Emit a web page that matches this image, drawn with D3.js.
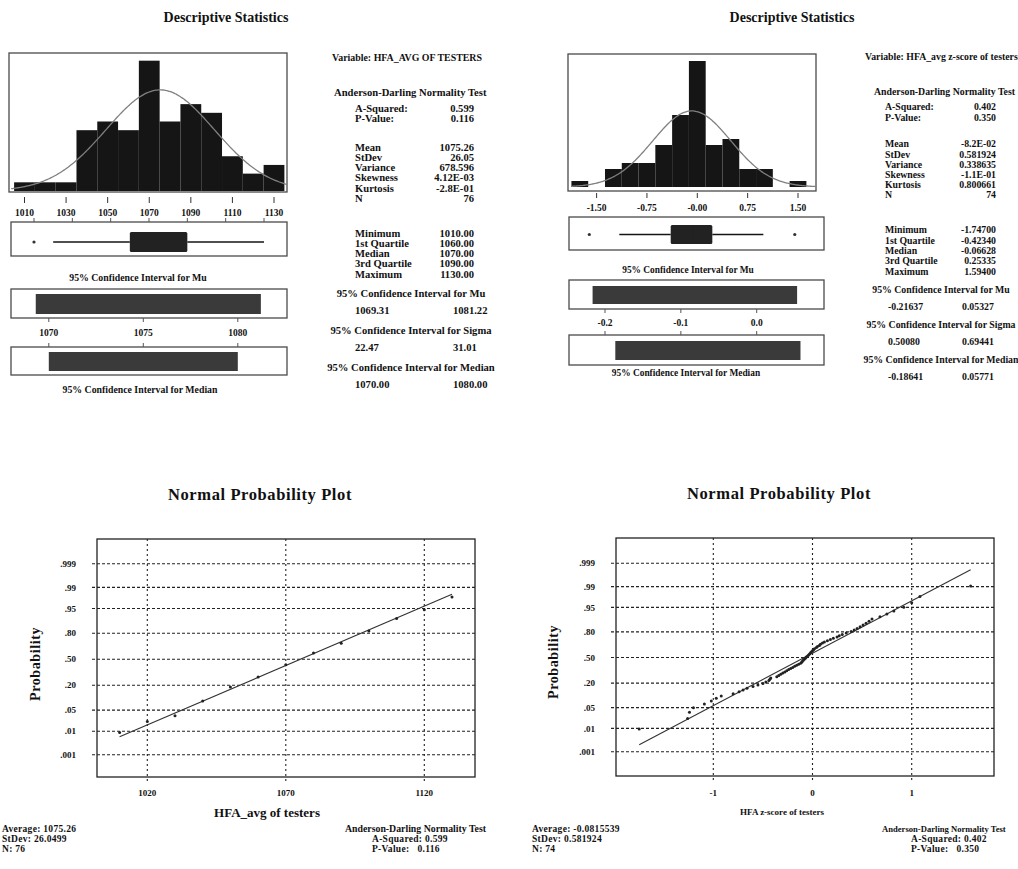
<!DOCTYPE html>
<html>
<head>
<meta charset="utf-8">
<script src="https://cdn.jsdelivr.net/npm/d3@7"></script>
<style>
  html, body { margin: 0; padding: 0; background: #fff; }
  svg { display: block; font-family: "Liberation Serif", "Times New Roman", serif; font-weight: bold; fill: #111; }
</style>
</head>
<body>
<svg id="chart" width="1018" height="869"></svg>
<script>
// ---------- HFA_AVG of testers ----------
const binCentersA = [1010, 1020, 1030, 1040, 1050, 1060, 1070, 1080, 1090, 1100, 1110, 1120, 1130];
const countsA     = [1, 1, 1, 7, 8, 7, 15, 8, 10, 9, 4, 2, 3];
const histTicksA  = [1010, 1030, 1050, 1070, 1090, 1110, 1130];
const meanA = 1075.26, sdA = 26.0499, nA = 76, binWidthA = 10;
const boxA = [1060, 1070, 1090];            // Q1, median, Q3
const whiskerA = [1020, 1130];
const outliersA = [1010];
const ciMuA = [1069.31, 1081.22];
const ciMedA = [1070.00, 1080.00];
const ciTicksA = [1070, 1075, 1080];
const ppValuesA = [1010, 1020, 1030, 1040, 1050, 1060, 1070, 1080, 1090, 1100, 1110, 1120, 1130];
const ppProbsA  = [0.009, 0.022, 0.034, 0.088, 0.186, 0.284, 0.430, 0.580, 0.697, 0.821, 0.906, 0.946, 0.978];
const ppXTicksA = [1020, 1070, 1120];

const statRowsA1 = [["A-Squared:", "0.599"], ["P-Value:", "0.116"]];
const statRowsA2 = [["Mean", "1075.26"], ["StDev", "26.05"], ["Variance", "678.596"], ["Skewness", "4.12E-03"], ["Kurtosis", "-2.8E-01"], ["N", "76"]];
const statRowsA3 = [["Minimum", "1010.00"], ["1st Quartile", "1060.00"], ["Median", "1070.00"], ["3rd Quartile", "1090.00"], ["Maximum", "1130.00"]];
const ciTextA = [["1069.31", "1081.22"], ["22.47", "31.01"], ["1070.00", "1080.00"]];

// ---------- HFA z-score of testers ----------
const binCentersB = [-1.75, -1.5, -1.25, -1.0, -0.75, -0.5, -0.25, 0, 0.25, 0.5, 0.75, 1.0, 1.25, 1.5];
const countsB     = [1, 0, 3, 4, 4, 7, 12, 21, 7, 8, 3, 3, 0, 1];
const histTicksB  = [-1.5, -0.75, 0, 0.75, 1.5];
const histTickLabelsB = ["-1.50", "-0.75", "-0.00", "0.75", "1.50"];
const meanB = -0.0815539, sdB = 0.581924, nB = 74, binWidthB = 0.25;
const boxB = [-0.42340, -0.06628, 0.25335];
const whiskerB = [-1.259, 1.083];
const outliersB = [-1.747, 1.594];
const ciMuB = [-0.21637, 0.05327];
const ciMedB = [-0.18641, 0.05771];
const ciTicksB = [-0.2, -0.1, 0.0];
const ciTickLabelsB = ["-0.2", "-0.1", "0.0"];
const ppValuesB = [-1.747, -1.259, -1.24, -1.20, -1.09, -1.02, -0.97, -0.92, -0.80, -0.74,
  -0.70, -0.66, -0.60, -0.55, -0.50, -0.47, -0.44, -0.430, -0.421, -0.36,
  -0.34, -0.32, -0.30, -0.28, -0.26, -0.24, -0.22, -0.20, -0.18, -0.16,
  -0.14, -0.12, -0.11, -0.10, -0.09, -0.08, -0.0688, -0.0638, -0.05, -0.04,
  -0.03, -0.02, -0.01, 0.00, 0.01, 0.02, 0.04, 0.05, 0.07, 0.08,
  0.10, 0.12, 0.15, 0.18, 0.21, 0.2478, 0.270, 0.30, 0.34, 0.39,
  0.42, 0.45, 0.48, 0.51, 0.54, 0.57, 0.60, 0.68, 0.75, 0.82,
  0.92, 1.00, 1.083, 1.594];
const ppXTicksB = [-1, 0, 1];

const statRowsB1 = [["A-Squared:", "0.402"], ["P-Value:", "0.350"]];
const statRowsB2 = [["Mean", "-8.2E-02"], ["StDev", "0.581924"], ["Variance", "0.338635"], ["Skewness", "-1.1E-01"], ["Kurtosis", "0.800661"], ["N", "74"]];
const statRowsB3 = [["Minimum", "-1.74700"], ["1st Quartile", "-0.42340"], ["Median", "-0.06628"], ["3rd Quartile", "0.25335"], ["Maximum", "1.59400"]];
const ciTextB = [["-0.21637", "0.05327"], ["0.50080", "0.69441"], ["-0.18641", "0.05771"]];

// shared probability axis
const probTicks = [0.001, 0.01, 0.05, 0.2, 0.5, 0.8, 0.95, 0.99, 0.999];
const probTickLabels = [".001", ".01", ".05", ".20", ".50", ".80", ".95", ".99", ".999"];

const svg = d3.select("#chart");
const INK = "#151515";

function txt(g, x, y, s, size, anchor) {
  return g.append("text").attr("x", x).attr("y", y).attr("dy", "0.35em")
    .attr("font-size", size).attr("text-anchor", anchor || "start").text(s);
}

// inverse standard normal CDF (Acklam)
function probit(p) {
  const a = [-3.969683028665376e+01, 2.209460984245205e+02, -2.759285104469687e+02, 1.383577518672690e+02, -3.066479806614716e+01, 2.506628277459239e+00];
  const b = [-5.447609879822406e+01, 1.615858368580409e+02, -1.556989798598866e+02, 6.680131188771972e+01, -1.328068155288572e+01];
  const c = [-7.784894002430293e-03, -3.223964580411365e-01, -2.400758277161838e+00, -2.549732539343734e+00, 4.374664141464968e+00, 2.938163982698783e+00];
  const d = [7.784695709041462e-03, 3.224671290700398e-01, 2.445134137142996e+00, 3.754408661907416e+00];
  const pl = 0.02425, ph = 1 - pl;
  let q, r;
  if (p < pl) {
    q = Math.sqrt(-2 * Math.log(p));
    return (((((c[0]*q+c[1])*q+c[2])*q+c[3])*q+c[4])*q+c[5]) / ((((d[0]*q+d[1])*q+d[2])*q+d[3])*q+1);
  }
  if (p <= ph) {
    q = p - 0.5; r = q * q;
    return (((((a[0]*r+a[1])*r+a[2])*r+a[3])*r+a[4])*r+a[5])*q / (((((b[0]*r+b[1])*r+b[2])*r+b[3])*r+b[4])*r+1);
  }
  q = Math.sqrt(-2 * Math.log(1 - p));
  return -(((((c[0]*q+c[1])*q+c[2])*q+c[3])*q+c[4])*q+c[5]) / ((((d[0]*q+d[1])*q+d[2])*q+d[3])*q+1);
}
const phi = z => Math.exp(-0.5 * z * z) / Math.sqrt(2 * Math.PI);

// ---------- histogram with fitted normal curve ----------
function histogram(o) {
  const g = svg.append("g");
  g.append("rect").attr("x", o.frame[0]).attr("y", o.frame[1])
    .attr("width", o.frame[2] - o.frame[0]).attr("height", o.frame[3] - o.frame[1])
    .attr("fill", "none").attr("stroke", "#4a4a4a").attr("stroke-width", 1.3);
  const x = o.x, y = o.y;
  g.selectAll("rect.bar").data(o.centers.map((c, i) => ({ c, n: o.counts[i] })).filter(d => d.n > 0))
    .join("rect").attr("class", "bar")
    .attr("x", d => x(d.c - o.bw / 2)).attr("width", d => x(d.c + o.bw / 2) - x(d.c - o.bw / 2))
    .attr("y", d => y(d.n)).attr("height", d => y(0) - y(d.n))
    .attr("fill", INK);
  const xs = d3.range(o.curveDomain[0], o.curveDomain[1], (o.curveDomain[1] - o.curveDomain[0]) / 200).concat([o.curveDomain[1]]);
  const line = d3.line().x(v => x(v)).y(v => y(o.n * o.bw * phi((v - o.mean) / o.sd) / o.sd)).curve(d3.curveBasis);
  g.append("path").attr("d", line(xs)).attr("fill", "none").attr("stroke", "#808080").attr("stroke-width", 1.3);
  o.ticks.forEach((t, i) => {
    g.append("line").attr("x1", x(t)).attr("x2", x(t)).attr("y1", o.tickY[0]).attr("y2", o.tickY[1])
      .attr("stroke", "#333").attr("stroke-width", 1);
    txt(g, x(t), o.labelY, o.tickLabels ? o.tickLabels[i] : String(t), o.labelSize, "middle");
  });
}

// ---------- box plot ----------
function boxplot(o) {
  const g = svg.append("g");
  const x = o.x;
  g.append("rect").attr("x", o.frame[0]).attr("y", o.frame[1])
    .attr("width", o.frame[2] - o.frame[0]).attr("height", o.frame[3] - o.frame[1])
    .attr("fill", "none").attr("stroke", "#4a4a4a").attr("stroke-width", 1.3);
  o.ticks.forEach(t => {
    g.append("line").attr("x1", x(t)).attr("x2", x(t)).attr("y1", o.frame[1] - 4).attr("y2", o.frame[1])
      .attr("stroke", "#555").attr("stroke-width", 1);
  });
  g.append("line").attr("x1", x(o.whisker[0])).attr("x2", x(o.box[0])).attr("y1", o.cy).attr("y2", o.cy)
    .attr("stroke", INK).attr("stroke-width", 1.4);
  g.append("line").attr("x1", x(o.box[2])).attr("x2", x(o.whisker[1])).attr("y1", o.cy).attr("y2", o.cy)
    .attr("stroke", INK).attr("stroke-width", 1.4);
  g.append("rect").attr("x", x(o.box[0])).attr("width", x(o.box[2]) - x(o.box[0]))
    .attr("y", o.cy - o.bh / 2).attr("height", o.bh).attr("rx", 1.5).attr("fill", "#222");
  g.append("line").attr("x1", x(o.box[1])).attr("x2", x(o.box[1])).attr("y1", o.cy - o.bh / 2).attr("y2", o.cy + o.bh / 2)
    .attr("stroke", "#222").attr("stroke-width", 1);
  g.selectAll("circle").data(o.outliers).join("circle")
    .attr("cx", d => x(d)).attr("cy", o.cy).attr("r", 1.6).attr("fill", "#333");
}

// ---------- confidence interval bars ----------
function ciBars(o) {
  const g = svg.append("g");
  const x = o.x;
  [[o.muFrame, o.mu], [o.medFrame, o.med]].forEach(([f, ci]) => {
    g.append("rect").attr("x", f[0]).attr("y", f[1]).attr("width", f[2] - f[0]).attr("height", f[3] - f[1])
      .attr("fill", "none").attr("stroke", "#4a4a4a").attr("stroke-width", 1.3);
    g.append("rect").attr("x", x(ci[0])).attr("width", x(ci[1]) - x(ci[0]))
      .attr("y", f[1] + o.pad[0]).attr("height", f[3] - f[1] - o.pad[0] - o.pad[1])
      .attr("fill", "#3a3a3a");
  });
  o.ticks.forEach((t, i) => {
    g.append("line").attr("x1", x(t)).attr("x2", x(t)).attr("y1", o.muFrame[3]).attr("y2", o.muFrame[3] + 4)
      .attr("stroke", "#555");
    g.append("line").attr("x1", x(t)).attr("x2", x(t)).attr("y1", o.medFrame[1] - 4).attr("y2", o.medFrame[1])
      .attr("stroke", "#555");
    txt(g, x(t), o.labelY, o.tickLabels ? o.tickLabels[i] : String(t), o.labelSize, "middle");
  });
  txt(g, o.muTitle[0], o.muTitle[1], "95% Confidence Interval for Mu", o.titleSize, "middle");
  txt(g, o.medTitle[0], o.medTitle[1], "95% Confidence Interval for Median", o.titleSize, "middle");
}

// ---------- statistics text column ----------
function statsColumn(o) {
  const g = svg.append("g");
  const v = txt(g, o.varX, o.varY, o.variable, o.size);
  if (o.varWidth) v.attr("textLength", o.varWidth).attr("lengthAdjust", "spacingAndGlyphs");
  txt(g, o.adX, o.adY, "Anderson-Darling Normality Test", o.size);
  const rows = (list, y0, step) => list.forEach((r, i) => {
    txt(g, o.labelX, y0 + i * step, r[0], o.size);
    txt(g, o.valueX, y0 + i * step, r[1], o.size, "end");
  });
  rows(o.rows1, o.rows1Y, o.step);
  rows(o.rows2, o.rows2Y, o.step);
  rows(o.rows3, o.rows3Y, o.step3);
  const titles = ["95% Confidence Interval for Mu", "95% Confidence Interval for Sigma", "95% Confidence Interval for Median"];
  titles.forEach((t, i) => {
    txt(g, o.ciCenter, o.ciY[i], t, o.size, "middle");
    txt(g, o.ciValX[0], o.ciY[i] + o.ciGap, o.ci[i][0], o.size);
    txt(g, o.ciValX[1], o.ciY[i] + o.ciGap, o.ci[i][1], o.size);
  });
}

// ---------- normal probability plot ----------
function probPlot(o) {
  const g = svg.append("g");
  const x = o.x;
  const yz = o.yz;
  const yp = p => yz(probit(p));
  const f = o.frame;
  probTicks.forEach((p, i) => {
    g.append("line").attr("x1", o.gridX[0]).attr("x2", o.gridX[1]).attr("y1", yp(p)).attr("y2", yp(p))
      .attr("stroke", "#222").attr("stroke-width", 1.1).attr("stroke-dasharray", "3,2");
    txt(g, o.yLabelX, yp(p), probTickLabels[i], 9, "end");
  });
  o.xTicks.forEach((t, i) => {
    g.append("line").attr("x1", x(t)).attr("x2", x(t)).attr("y1", f[1]).attr("y2", f[3] + 6)
      .attr("stroke", "#222").attr("stroke-width", 1.1).attr("stroke-dasharray", "2,3");
    txt(g, x(t), o.xLabelY, o.xTickLabels[i], 9, "middle");
  });
  g.append("rect").attr("x", f[0]).attr("y", f[1]).attr("width", f[2] - f[0]).attr("height", f[3] - f[1])
    .attr("fill", "none").attr("stroke", "#222").attr("stroke-width", 1.3);
  // fitted line from the sample mean and standard deviation
  const lo = d3.min(o.values), hi = d3.max(o.values);
  g.append("line").attr("x1", x(lo)).attr("y1", yz((lo - o.mean) / o.sd))
    .attr("x2", x(hi)).attr("y2", yz((hi - o.mean) / o.sd))
    .attr("stroke", "#333").attr("stroke-width", 1.1);
  g.selectAll("circle").data(o.values.map((v, i) => [v, o.probs[i]])).join("circle")
    .attr("cx", d => x(d[0])).attr("cy", d => yp(d[1])).attr("r", 1.5).attr("fill", "#222");
  txt(g, o.title[0], o.title[1], "Normal Probability Plot", 16.5, "middle").attr("letter-spacing", 0.6);
  txt(g, 0, 0, "Probability", 14, "middle")
    .attr("transform", `translate(${o.yTitle[0]},${o.yTitle[1]}) rotate(-90)`).attr("letter-spacing", 0.6);
  txt(g, o.xTitle[0], o.xTitle[1], o.xTitleText, o.xTitleSize, "middle");
  const foot = o.foot;
  o.footLeft.forEach((s, i) => txt(g, foot[0], foot[2] + i * foot[3], s, 9.5).attr("letter-spacing", 0.3));
  txt(g, foot[1], foot[2], "Anderson-Darling Normality Test", o.adSize);
  o.footRight.forEach((s, i) => txt(g, foot[4], foot[2] + (i + 1) * foot[3], s, 9.5)
    .attr("letter-spacing", 0.3).attr("xml:space", "preserve"));
}

// ===== panel A (top-left) =====
txt(svg, 226, 17, "Descriptive Statistics", 14, "middle");
histogram({
  frame: [9, 53, 287, 192],
  x: d3.scaleLinear().domain([1010, 1130]).range([24.5, 274]),
  y: d3.scaleLinear().domain([0, 16]).range([191, 52]),
  centers: binCentersA, counts: countsA, bw: binWidthA,
  mean: meanA, sd: sdA, n: nA, curveDomain: [1003.6, 1136.2],
  ticks: histTicksA, tickY: [197, 203], labelY: 213, labelSize: 9.5
});
boxplot({
  frame: [11, 222, 287, 256], x: d3.scaleLinear().domain([1010, 1130]).range([34, 264]), ticks: histTicksA,
  box: boxA, whisker: whiskerA, outliers: outliersA, cy: 242, bh: 20
});
ciBars({
  x: d3.scaleLinear().domain([1070, 1080]).range([48.8, 237.8]),
  muFrame: [11, 289, 287, 318], medFrame: [11, 347, 287, 375], pad: [5, 4],
  mu: ciMuA, med: ciMedA, ticks: ciTicksA, labelY: 333, labelSize: 9.5,
  muTitle: [138, 278], medTitle: [140, 390], titleSize: 9.8
});
statsColumn({
  variable: "Variable: HFA_AVG OF TESTERS", varWidth: 150, size: 10.6,
  varX: 332, varY: 57, adX: 334, adY: 92,
  labelX: 355, valueX: 474, step: 10.2, step3: 10.2,
  rows1: statRowsA1, rows1Y: 108, rows2: statRowsA2, rows2Y: 147, rows3: statRowsA3, rows3Y: 233,
  ciCenter: 411, ciY: [293, 330, 367], ciGap: 17.5, ciValX: [355, 453], ci: ciTextA
});

// ===== panel B (top-right) =====
txt(svg, 792, 17, "Descriptive Statistics", 14, "middle");
histogram({
  frame: [568, 54, 816, 191],
  x: d3.scaleLinear().domain([-1.5, 1.5]).range([596.6, 798]),
  y: d3.scaleLinear().domain([0, 22]).range([187, 55]),
  centers: binCentersB, counts: countsB, bw: binWidthB,
  mean: meanB, sd: sdB, n: nB, curveDomain: [-1.88, 1.76],
  ticks: histTicksB, tickLabels: histTickLabelsB, tickY: [193, 198], labelY: 208, labelSize: 9.5
});
boxplot({
  frame: [569, 217, 824, 250], x: d3.scaleLinear().domain([-1.5, 1.5]).range([604.5, 789]), ticks: [],
  box: boxB, whisker: whiskerB, outliers: outliersB, cy: 234.5, bh: 19
});
ciBars({
  x: d3.scaleLinear().domain([-0.2, 0.0]).range([605, 756.7]),
  muFrame: [569, 280, 824, 309], medFrame: [569, 335, 824, 365], pad: [6, 5],
  mu: ciMuB, med: ciMedB, ticks: ciTicksB, tickLabels: ciTickLabelsB, labelY: 323, labelSize: 9.5,
  muTitle: [688, 270], medTitle: [686, 373], titleSize: 9.4
});
statsColumn({
  variable: "Variable: HFA_avg z-score of testers", size: 9.8,
  varX: 865, varY: 57, adX: 874, adY: 92,
  labelX: 885, valueX: 996, step: 10.2, step3: 10.3,
  rows1: statRowsB1, rows1Y: 107, rows2: statRowsB2, rows2Y: 144, rows3: statRowsB3, rows3Y: 230,
  ciCenter: 941, ciY: [290, 325, 360], ciGap: 16.5, ciValX: [888, 962], ci: ciTextB
});

// ===== panel C (bottom-left) =====
probPlot({
  x: d3.scaleLinear().domain([1020, 1120]).range([147.3, 424.3]),
  yz: d3.scaleLinear().domain([-3.09, 3.09]).range([754.8, 563.8]),
  frame: [97, 539, 475, 777], gridX: [92, 477],
  values: ppValuesA, probs: ppProbsA, mean: meanA, sd: sdA,
  xTicks: ppXTicksA, xTickLabels: ppXTicksA.map(String), xLabelY: 793, yLabelX: 76,
  title: [260, 494], yTitle: [35, 664],
  xTitle: [267, 812], xTitleText: "HFA_avg of testers", xTitleSize: 13,
  foot: [2, 345, 829, 10, 372], adSize: 9.8,
  footLeft: ["Average: 1075.26", "StDev: 26.0499", "N: 76"],
  footRight: ["A-Squared: 0.599", "P-Value:   0.116"]
});

// ===== panel D (bottom-right) =====
probPlot({
  x: d3.scaleLinear().domain([-1, 1]).range([713.3, 911.7]),
  yz: d3.scaleLinear().domain([-3.09, 3.09]).range([751.7, 563.3]),
  frame: [616, 538, 994, 776], gridX: [611, 996],
  values: ppValuesB, probs: ppValuesB.map((v, i) => (i + 1 - 0.3) / (nB + 0.4)), mean: meanB, sd: sdB,
  xTicks: ppXTicksB, xTickLabels: ["-1", "0", "1"], xLabelY: 793, yLabelX: 595,
  title: [779, 493], yTitle: [553, 662],
  xTitle: [782, 812], xTitleText: "HFA z-score of testers", xTitleSize: 9,
  foot: [532, 882, 829, 10, 911], adSize: 8.6,
  footLeft: ["Average: -0.0815539", "StDev: 0.581924", "N: 74"],
  footRight: ["A-Squared: 0.402", "P-Value:   0.350"]
});
</script>
</body>
</html>
